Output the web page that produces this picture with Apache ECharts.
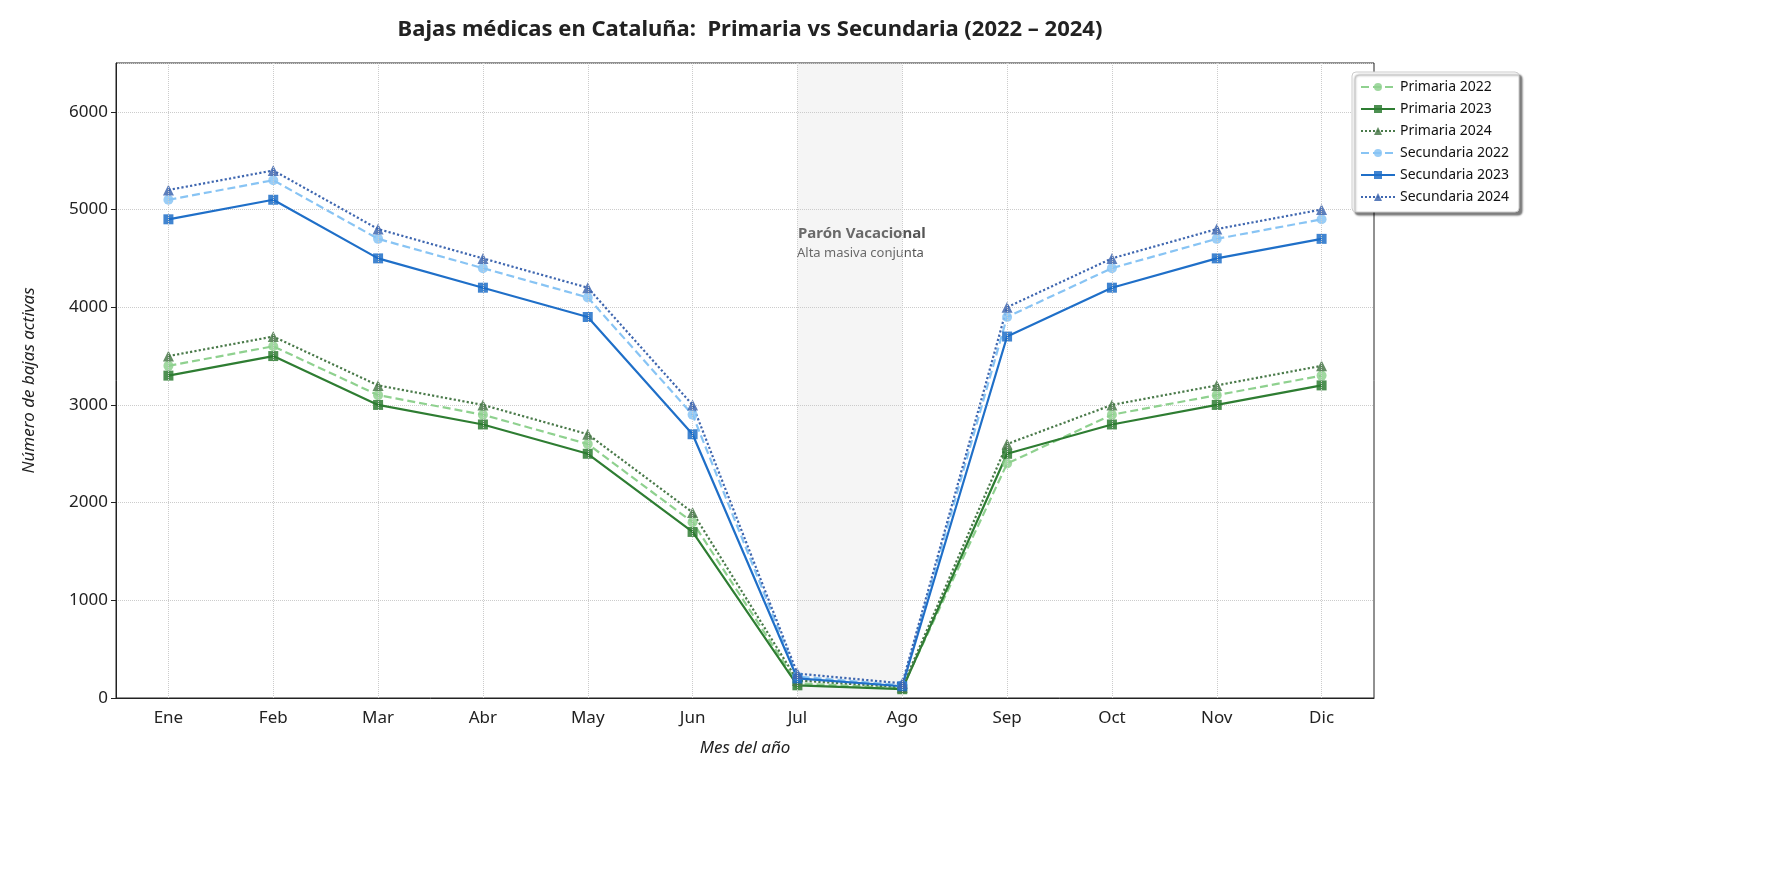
<!DOCTYPE html>
<html lang="es">
<head>
<meta charset="UTF-8" />
<title>Bajas médicas</title>
<script src="https://cdn.jsdelivr.net/npm/echarts@6.0.0/dist/echarts.min.js"></script>
</head>
<body style="margin:0">
<div id="main" style="width:1788px;height:880px"></div>
<script>
const months = ["Ene","Feb","Mar","Abr","May","Jun","Jul","Ago","Sep","Oct","Nov","Dic"];
const primaria2022 = [3400,3600,3100,2900,2600,1800,150,100,2400,2900,3100,3300];
const primaria2023 = [3300,3500,3000,2800,2500,1700,130,90,2500,2800,3000,3200];
const primaria2024 = [3500,3700,3200,3000,2700,1900,180,110,2600,3000,3200,3400];
const secundaria2022 = [5100,5300,4700,4400,4100,2900,220,130,3900,4400,4700,4900];
const secundaria2023 = [4900,5100,4500,4200,3900,2700,200,120,3700,4200,4500,4700];
const secundaria2024 = [5200,5400,4800,4500,4200,3000,250,150,4000,4500,4800,5000];

const font = "Noto Sans";
function mk(name, data, color, type, symbol, size, width) {
  return {
    name, type: "line", data, symbol, symbolSize: size,
    lineStyle: { color, type, width },
    itemStyle: { color, opacity: 0.85 },
    z: 3
  };
}
const series = [
  mk("Primaria 2022", primaria2022, "#8fd18f", [8,4], "circle", 10, 2.2),
  mk("Primaria 2023", primaria2023, "#2e7d32", "solid", "rect", 10, 2.2),
  mk("Primaria 2024", primaria2024, "#4a7a4a", "dotted", "triangle", 11, 2.2),
  mk("Secundaria 2022", secundaria2022, "#88c4f4", [8,4], "circle", 10, 2.2),
  mk("Secundaria 2023", secundaria2023, "#1f6fc8", "solid", "rect", 10, 2.2),
  mk("Secundaria 2024", secundaria2024, "#3f67b0", "dotted", "triangle", 11, 2.2)
];
series[0].markArea = {
  silent: true,
  itemStyle: { color: "rgba(200,200,200,0.18)" },
  label: { show: false },
  data: [[{ xAxis: "Jul" }, { xAxis: "Ago" }]]
};
series[0].markLine = {
  silent: true, symbol: "none", label: { show: false },
  lineStyle: { type: "dotted", color: "#ccc", width: 1 },
  data: months.map(m => ({ xAxis: m }))
};

const chart = echarts.init(document.getElementById("main"));
chart.setOption({
  textStyle: { fontFamily: font },
  title: {
    text: "Bajas médicas en Cataluña:  Primaria vs Secundaria (2022 – 2024)",
    left: 745, top: 14, textAlign: "center",
    textStyle: { fontSize: 22, fontWeight: "bold", color: "#222", fontFamily: font }
  },
  legend: {
    orient: "vertical", left: 1352, top: 72, itemGap: 8,
    padding: [8, 10, 8, 8],
    backgroundColor: "#fff", borderColor: "#ccc", borderWidth: 1, borderRadius: 4,
    shadowColor: "rgba(0,0,0,0.5)", shadowBlur: 2, shadowOffsetX: 3, shadowOffsetY: 3,
    itemWidth: 34, itemHeight: 10,
    textStyle: { fontSize: 14, color: "#111" }
  },
  grid: { left: 116, right: 414, top: 63, bottom: 182, show: true, borderColor: "#222", borderWidth: 1 },
  xAxis: {
    type: "category", data: months, boundaryGap: true,
    name: "Mes del año", nameLocation: "middle", nameGap: 42,
    nameTextStyle: { fontSize: 17, fontStyle: "italic", color: "#222" },
    axisLine: { lineStyle: { color: "#222" } },
    axisTick: { alignWithLabel: true, lineStyle: { color: "#222" } },
    axisLabel: { fontSize: 17, color: "#222", margin: 12 },
    splitLine: { show: false }
  },
  yAxis: {
    type: "value", min: 0, max: 6500, interval: 1000,
    name: "Número de bajas activas", nameLocation: "middle", nameGap: 78,
    nameTextStyle: { fontSize: 17, fontStyle: "italic", color: "#222" },
    axisLine: { show: true, lineStyle: { color: "#222" } },
    axisTick: { show: true, lineStyle: { color: "#222" } },
    axisLabel: { fontSize: 17, color: "#222", showMaxLabel: false, formatter: v => String(v) },
    splitLine: { lineStyle: { type: "dotted", color: "#ccc" } }
  },
  graphic: [
    { type: "text", left: 798, top: 226, style: { text: "Parón Vacacional", font: "bold 15px Noto Sans", fill: "#555" } },
    { type: "text", left: 797, top: 247, style: { text: "Alta masiva conjunta", font: "13px Noto Sans", fill: "#555" } }
  ],
  series
});
</script>
</body>
</html>
